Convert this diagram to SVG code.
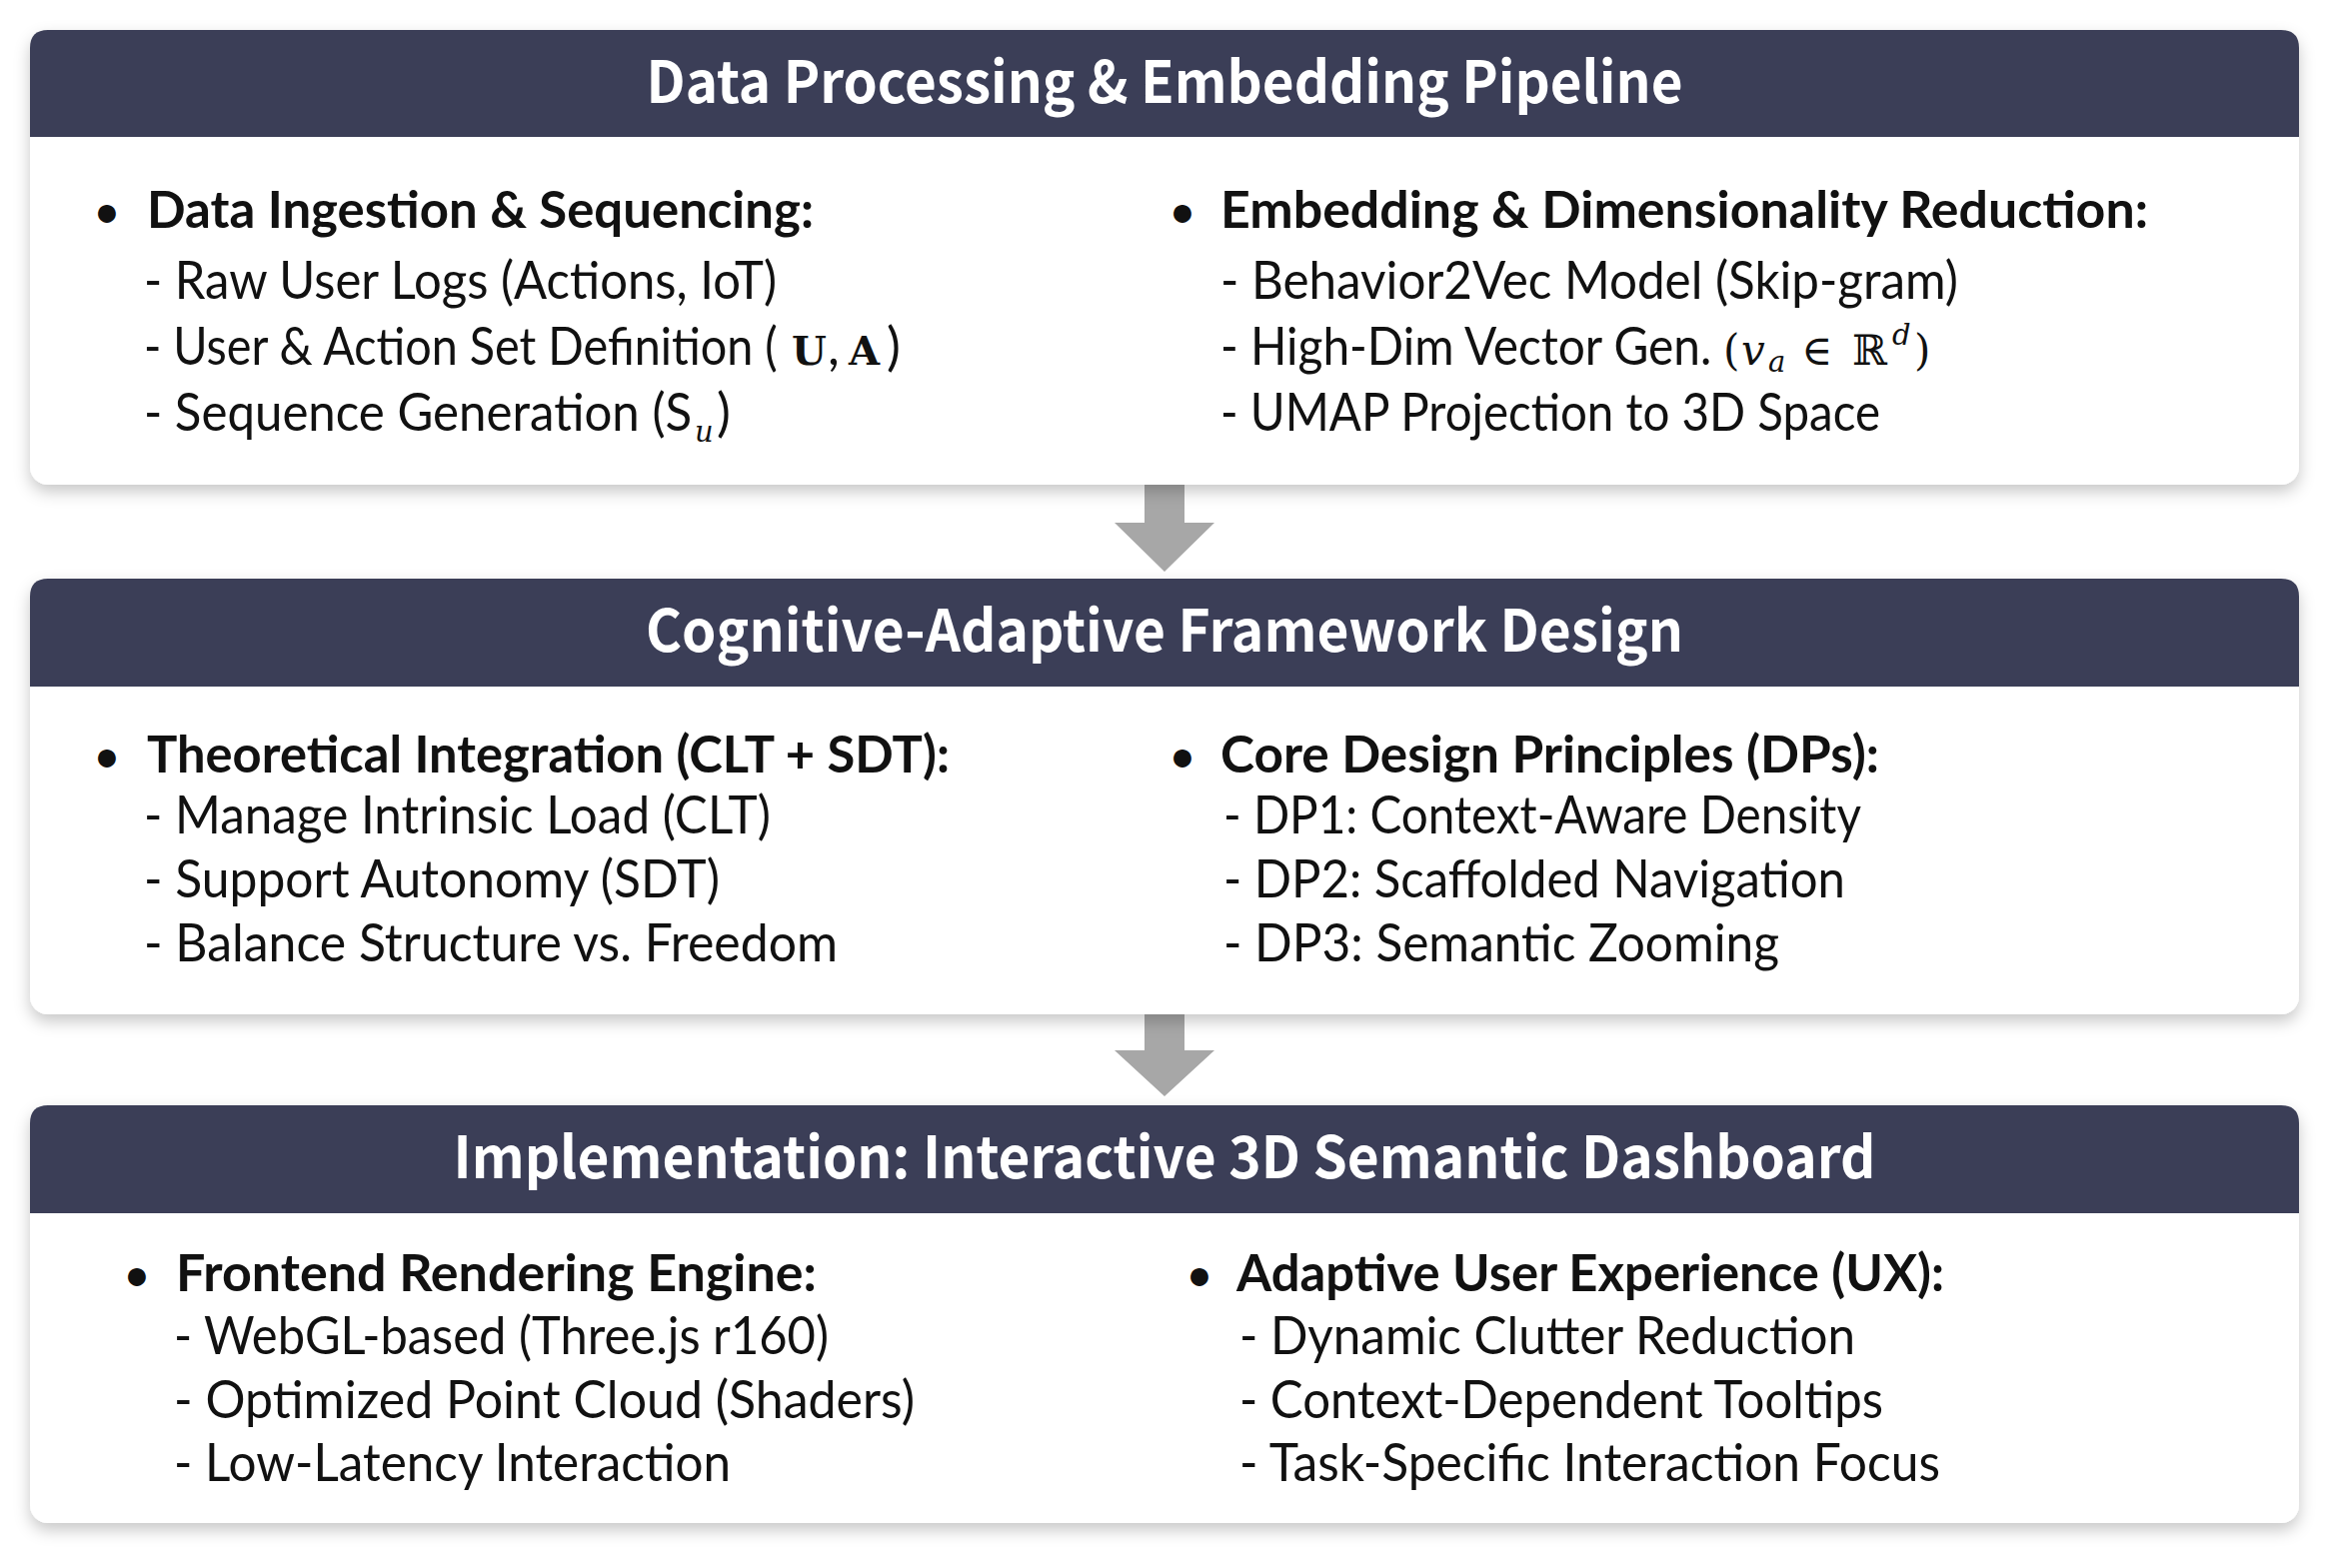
<svg xmlns="http://www.w3.org/2000/svg" width="2334" height="1569" viewBox="0 0 2334 1569">
<defs>
<filter id="sh" x="-5%" y="-10%" width="110%" height="125%">
<feDropShadow dx="0" dy="7" stdDeviation="8" flood-color="#000" flood-opacity="0.22"/>
</filter>
<style>
.card{fill:#ffffff;filter:url(#sh)}
.hdr{fill:#3b3e57}
.ttl{font-family:"Noto Sans CJK SC","Noto Sans",sans-serif;font-weight:700;font-size:58px;fill:#ffffff;text-anchor:middle}
.b{font-family:Lato,"Noto Sans",sans-serif;font-weight:700;font-size:52px;fill:#111111}
.t{font-family:Lato,"Noto Sans",sans-serif;font-weight:400;font-size:52px;fill:#111111}
.bul{font-family:Lato,"Noto Sans",sans-serif;font-weight:400;font-size:48px;fill:#111111;text-anchor:middle}
.m{font-family:"DejaVu Serif","Liberation Serif",serif;font-weight:400;font-size:42px;fill:#111111}
.mi{font-family:"DejaVu Serif","Liberation Serif",serif;font-style:italic;font-weight:400;font-size:42px;fill:#111111}
.ms{font-family:"DejaVu Serif","Liberation Serif",serif;font-style:italic;font-weight:400;font-size:29px;fill:#111111}
.mb{font-family:"DejaVu Serif","Liberation Serif",serif;font-weight:700;font-size:40px;fill:#111111}
.arw{fill:#a7a7a7}
</style>
</defs>
<rect width="2334" height="1569" fill="#ffffff"/>

<g id="connectors">
<polygon class="arw" points="1145,480 1185,480 1185,523 1215,523 1165,572 1115,523 1145,523"/>
<polygon class="arw" points="1145,1010 1185,1010 1185,1051 1215,1051 1165,1097 1115,1051 1145,1051"/>
</g>

<g id="panel-data-processing">
<rect class="card" x="30" y="30" width="2270" height="455" rx="18"/>
<path class="hdr" d="M30,137 V48 Q30,30 48,30 H2282 Q2300,30 2300,48 V137 Z"/>
<text class="ttl" x="1165" y="103" textLength="1037" lengthAdjust="spacingAndGlyphs">Data Processing &amp; Embedding Pipeline</text>
<text class="bul" x="107" y="228">•</text>
<text class="b" x="147" y="228" textLength="667" lengthAdjust="spacingAndGlyphs">Data Ingestion &amp; Sequencing:</text>
<text class="t" x="144" y="299" textLength="633" lengthAdjust="spacingAndGlyphs">- Raw User Logs (Actions, IoT)</text>
<text class="t" transform="translate(144,365) scale(0.75,1)" x="0" y="0" textLength="845" lengthAdjust="spacingAndGlyphs">- User &amp; Action Set Definition (</text>
<text class="mb" x="792" y="365">U</text>
<text class="t" x="828" y="365">,</text>
<text class="mb" x="849" y="365">A</text>
<text class="t" x="887" y="365">)</text>
<text class="t" transform="translate(144,431) scale(0.75,1)" x="0" y="0" textLength="731" lengthAdjust="spacingAndGlyphs">- Sequence Generation (S</text>
<text class="ms" x="695" y="442">u</text>
<text class="t" x="717" y="431">)</text>
<text class="bul" x="1183" y="228">•</text>
<text class="b" x="1221" y="228" textLength="928" lengthAdjust="spacingAndGlyphs">Embedding &amp; Dimensionality Reduction:</text>
<text class="t" x="1221" y="299" textLength="738" lengthAdjust="spacingAndGlyphs">- Behavior2Vec Model (Skip-gram)</text>
<text class="t" transform="translate(1221,365) scale(0.75,1)" x="0" y="0" textLength="655" lengthAdjust="spacingAndGlyphs">- High-Dim Vector Gen.</text>
<text class="m" x="1724" y="365">(</text>
<text class="mi" x="1742" y="365">v</text>
<text class="ms" x="1769" y="372">a</text>
<text class="m" x="1802" y="365">∈</text>
<text class="m" x="1853" y="365">ℝ</text>
<text class="ms" x="1893" y="345">d</text>
<text class="m" x="1915" y="365">)</text>
<text class="t" x="1221" y="431" textLength="660" lengthAdjust="spacingAndGlyphs">- UMAP Projection to 3D Space</text>
</g>

<g id="panel-framework-design">
<rect class="card" x="30" y="579" width="2270" height="436" rx="18"/>
<path class="hdr" d="M30,687 V597 Q30,579 48,579 H2282 Q2300,579 2300,597 V687 Z"/>
<text class="ttl" x="1165" y="652" textLength="1038" lengthAdjust="spacingAndGlyphs">Cognitive-Adaptive Framework Design</text>
<text class="bul" x="107" y="773">•</text>
<text class="b" x="147" y="773" textLength="803" lengthAdjust="spacingAndGlyphs">Theoretical Integration (CLT + SDT):</text>
<text class="t" x="144" y="834" textLength="627" lengthAdjust="spacingAndGlyphs">- Manage Intrinsic Load (CLT)</text>
<text class="t" x="144" y="898" textLength="576" lengthAdjust="spacingAndGlyphs">- Support Autonomy (SDT)</text>
<text class="t" x="144" y="962" textLength="694" lengthAdjust="spacingAndGlyphs">- Balance Structure vs. Freedom</text>
<text class="bul" x="1183" y="773">•</text>
<text class="b" x="1221" y="773" textLength="659" lengthAdjust="spacingAndGlyphs">Core Design Principles (DPs):</text>
<text class="t" x="1224" y="834" textLength="638" lengthAdjust="spacingAndGlyphs">- DP1: Context-Aware Density</text>
<text class="t" x="1224" y="898" textLength="622" lengthAdjust="spacingAndGlyphs">- DP2: Scaffolded Navigation</text>
<text class="t" x="1224" y="962" textLength="556" lengthAdjust="spacingAndGlyphs">- DP3: Semantic Zooming</text>
</g>

<g id="panel-implementation">
<rect class="card" x="30" y="1106" width="2270" height="418" rx="18"/>
<path class="hdr" d="M30,1214 V1124 Q30,1106 48,1106 H2282 Q2300,1106 2300,1124 V1214 Z"/>
<text class="ttl" x="1165" y="1179" textLength="1423" lengthAdjust="spacingAndGlyphs">Implementation: Interactive 3D Semantic Dashboard</text>
<text class="bul" x="137" y="1292">•</text>
<text class="b" x="176" y="1292" textLength="641" lengthAdjust="spacingAndGlyphs">Frontend Rendering Engine:</text>
<text class="t" x="174" y="1355" textLength="655" lengthAdjust="spacingAndGlyphs">- WebGL-based (Three.js r160)</text>
<text class="t" x="174" y="1419" textLength="741" lengthAdjust="spacingAndGlyphs">- Optimized Point Cloud (Shaders)</text>
<text class="t" x="174" y="1482" textLength="557" lengthAdjust="spacingAndGlyphs">- Low-Latency Interaction</text>
<text class="bul" x="1200" y="1292">•</text>
<text class="b" x="1237" y="1292" textLength="708" lengthAdjust="spacingAndGlyphs">Adaptive User Experience (UX):</text>
<text class="t" x="1240" y="1355" textLength="616" lengthAdjust="spacingAndGlyphs">- Dynamic Clutter Reduction</text>
<text class="t" x="1240" y="1419" textLength="644" lengthAdjust="spacingAndGlyphs">- Context-Dependent Tooltips</text>
<text class="t" x="1240" y="1482" textLength="701" lengthAdjust="spacingAndGlyphs">- Task-Specific Interaction Focus</text>
</g>
</svg>
